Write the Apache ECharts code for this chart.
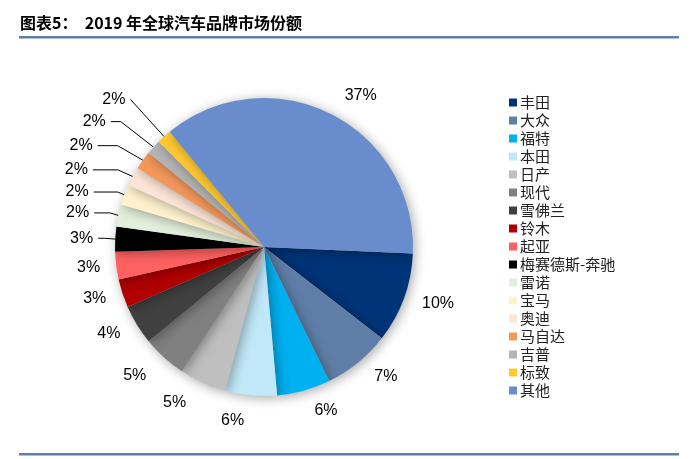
<!DOCTYPE html>
<html><head><meta charset="utf-8">
<script src="https://cdn.jsdelivr.net/npm/echarts@6/dist/echarts.min.js"></script>
<style>html,body{margin:0;padding:0;background:#fff}#c{width:690px;height:459px}</style>
</head><body><div id="c"></div>
<script>
const brands = ['丰田','大众','福特','本田','日产','现代','雪佛兰','铃木','起亚','梅赛德斯-奔驰','雷诺','宝马','奥迪','马自达','吉普','标致','其他'];
const shares = [9.8,7.3,5.8,5.6,5.1,4.8,4.3,3.1,3.0,2.7,2.4,2.2,2.1,2.0,1.6,1.6,36.6];
const colors = ['#003478','#5f7fa8','#00b0f0','#c0e8f8','#bfbfbf','#808080','#404040','#b00000','#ff6161','#000000','#e2efda','#fff2cc','#fce4d6','#f4975a','#b4b4b4','#ffc832','#698ccc'];
// leader-line styling per slice: [show, length, length2]
const lineStyleCfg = [[0,14,0],[0,18,0],[0,21,0],[0,20,0],[0,22,0],[0,24,0],[0,16,0],[0,16,0],[0,16,0],
  [1,16,6],[1,12,16],[1,8,24],[1,14,25],[1,25,20],[1,38,10],[1,50,0],[0,20,0]];
const total = shares.reduce((a,b)=>a+b,0);
const chart = echarts.init(document.getElementById('c'));
chart.setOption({
  animation:false,
  title:{text:'图表5：  2019 年全球汽车品牌市场份额',left:15,top:10,
    textStyle:{fontFamily:'Noto Sans CJK SC',fontWeight:'bold',fontSize:16,color:'#000'}},
  graphic:[
    {type:'rect',shape:{x:19,y:36,width:660,height:2.5},style:{fill:'#5e7fa8'}},
    {type:'rect',shape:{x:19,y:453,width:660,height:2.5},style:{fill:'#5e7fa8'}}
  ],
  legend:{orient:'vertical',left:504,top:90,height:340,itemWidth:8,itemHeight:8,itemGap:3,icon:'rect',
    textStyle:{fontFamily:'Noto Sans CJK SC',fontSize:15,lineHeight:15,color:'#222',padding:[0,0,0,-2]},
    data:brands},
  series:[{
    type:'pie',center:[264,247],radius:[0,149],startAngle:-2.5,clockwise:true,
    avoidLabelOverlap:true,
    itemStyle:{shadowBlur:12,shadowColor:'rgba(0,0,0,0.35)',shadowOffsetX:2,shadowOffsetY:2},
    label:{show:true,position:'outside',fontFamily:'Liberation Sans',fontSize:16,color:'#000',
      formatter:p=>Math.round(p.value/total*100)+'%'},
    labelLine:{length:20,length2:0,lineStyle:{color:'#000',width:1}},
    data:brands.map((b,i)=>({name:b,value:shares[i],itemStyle:{color:colors[i]},
      labelLine:{show:!!lineStyleCfg[i][0],length:lineStyleCfg[i][1],length2:lineStyleCfg[i][2]}}))
  }]
});
</script></body></html>
